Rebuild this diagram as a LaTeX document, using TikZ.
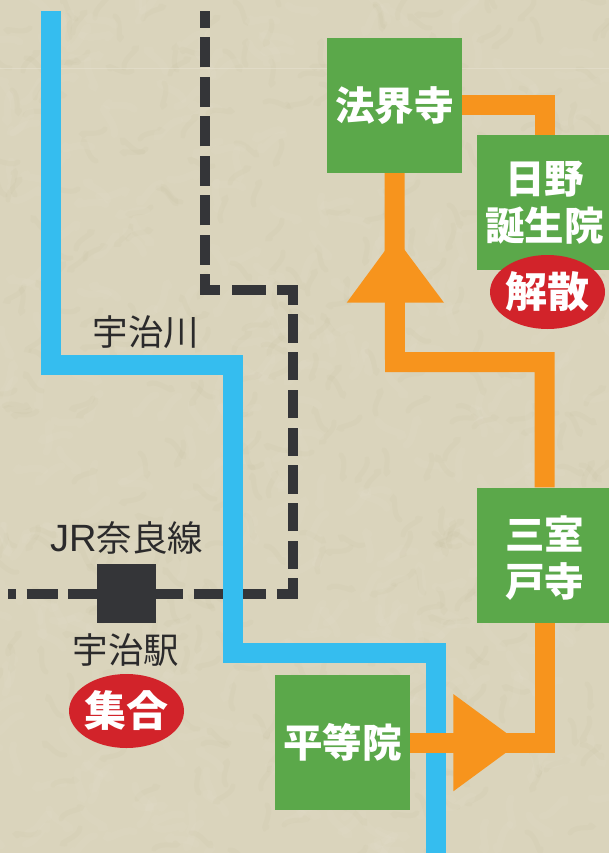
\documentclass[tikz,border=0pt]{standalone}
\usepackage{xcolor}
\usepackage{fontspec}
\usepackage{tikz}
\usetikzlibrary{positioning,shapes.geometric,backgrounds}
\setmainfont{Noto Sans CJK JP}
\newfontfamily\jrfont{Liberation Sans}
\definecolor{paperbg}{HTML}{DAD4BC}
\definecolor{paperdark}{HTML}{B3AB84}
\definecolor{paperlight}{HTML}{E8E3D2}
\definecolor{riverblue}{HTML}{35BDEF}
\definecolor{routeorange}{HTML}{F7941D}
\definecolor{spotgreen}{HTML}{5BA84A}
\definecolor{tagred}{HTML}{D2232A}
\definecolor{railgrey}{HTML}{343538}
\definecolor{labelgrey}{HTML}{2B2A2B}
\tikzset{
  spot/.style={fill=spotgreen, text=white, minimum size=135pt, inner sep=0pt, align=center,
    font=\fontsize{39.5}{47}\selectfont\bfseries},
  tag/.style={ellipse, fill=tagred, text=white, minimum width=115pt, minimum height=74pt,
    inner xsep=-8pt, inner ysep=-8pt, font=\fontsize{42}{42}\selectfont\bfseries},
  station/.style={fill=railgrey, minimum size=59pt, inner sep=0pt},
  maplabel/.style={text=labelgrey, inner sep=0pt, font=\fontsize{35.5}{35.5}\selectfont},
  river/.style={draw=riverblue, line width=20pt, miter limit=10},
  route/.style={draw=routeorange, line width=20pt, miter limit=10},
  rail/.style={draw=railgrey, line width=10pt},
  routetip/.style={fill=routeorange}
}
\begin{document}
\begin{tikzpicture}[x=1pt, y=-1pt]
        \useasboundingbox (0,0) rectangle (609,853);
        \clip (0,0) rectangle (609,853);

        \node[spot] (hokaiji) at (394.5,105.5) {法界寺};
        \node[spot] (hino) at (544.5,202.5) {日野\\誕生院};
        \node[spot] (muro) at (544.5,555) {\rule{0pt}{40pt}三室\\戸寺};
        \node[spot] (byodoin) at (342.5,742.5) {平等院};
        \node[station] (uji) at (126.5,593.5) {};
        \node[tag] (kaisan) at (547.5,292) {解散};
        \node[tag] (shugo) at (126.5,711) {集合};
        \node[maplabel] (jrnara) at (127,538) {{\jrfont\fontsize{38}{38}\selectfont JR}奈良線};
        \node[maplabel] (ujilabel) at (126,650) {宇治駅};
        \node[maplabel] (ujigawa) at (146,332) {宇治川};

        \coordinate (railW) at (8,593.5);
        \coordinate (railE) at (292.5,593.5);
        \coordinate (railM) at (292.5,289.7);
        \coordinate (railB) at (204.5,289.7);
        \coordinate (railN) at (204.5,11);
        \coordinate (riverN) at (51,11);
        \coordinate (riverA) at (51,365);
        \coordinate (riverB) at (233,365);
        \coordinate (riverC) at (233,652.5);
        \coordinate (riverD) at (436,652.5);
        \coordinate (riverS) at (436,853);
        \coordinate (bendA) at (395,362);

        \begin{scope}[on background layer]
            \clip (0,0) rectangle (609,853);
            \fill[paperbg] (0,0) rectangle (609,853);
            % paper grain
            \pgfmathsetseed{11}
            \foreach \i in {1,...,420} {
                \pgfmathsetmacro{\px}{random(0,609)}
                \pgfmathsetmacro{\py}{random(0,853)}
                \pgfmathsetmacro{\pa}{random(0,360)}
                \draw[paperdark, opacity=0.07, line width=5pt, line cap=round]
                    (\px,\py) .. controls +(\pa:10) and +(\pa+90:10) .. +(\pa+40:22);
                \draw[paperlight, opacity=0.12, line width=7pt, line cap=round]
                    (\py*0.71,\px*1.4) .. controls +(\pa+90:12) and +(\pa+10:12) .. +(\pa+60:26);
            }
            \draw[paperlight, opacity=0.5, line width=0.7pt] (0,68) -- (609,68);

            \draw[rail, dash pattern=on 31pt off 10.7pt, dash phase=23pt, shorten >=-5pt] (railW) -- (railE);
            \draw[rail, dash pattern=on 28.3pt off 9.4pt, dash phase=8.1pt, shorten <=-5pt, shorten >=-5pt] (railE) -- (railM);
            \draw[rail, dash pattern=on 34pt off 11.8pt, dash phase=13.8pt, shorten <=-5pt, shorten >=-5pt] (railM) -- (railB);
            \draw[rail, dash pattern=on 30pt off 9.5pt, dash phase=9.6pt, shorten <=-5pt] (railB) -- (railN);
            \draw[river] (riverN) -- (riverA) -- (riverB) -- (riverC) -- (riverD) -- (riverS);

            \draw[route] (hokaiji.east) -| (hino.north);
            \draw[route] (hokaiji.south) -- (bendA) -| (muro.north);
            \draw[route] (muro.south) |- (byodoin.east);
            \fill[routetip] (395,237) -- (444,302.7) -- (346.7,302.7) -- cycle;
            \fill[routetip] (519.5,742.7) -- (453.3,791.3) -- (453.3,694) -- cycle;
        \end{scope}
\end{tikzpicture}
\end{document}
